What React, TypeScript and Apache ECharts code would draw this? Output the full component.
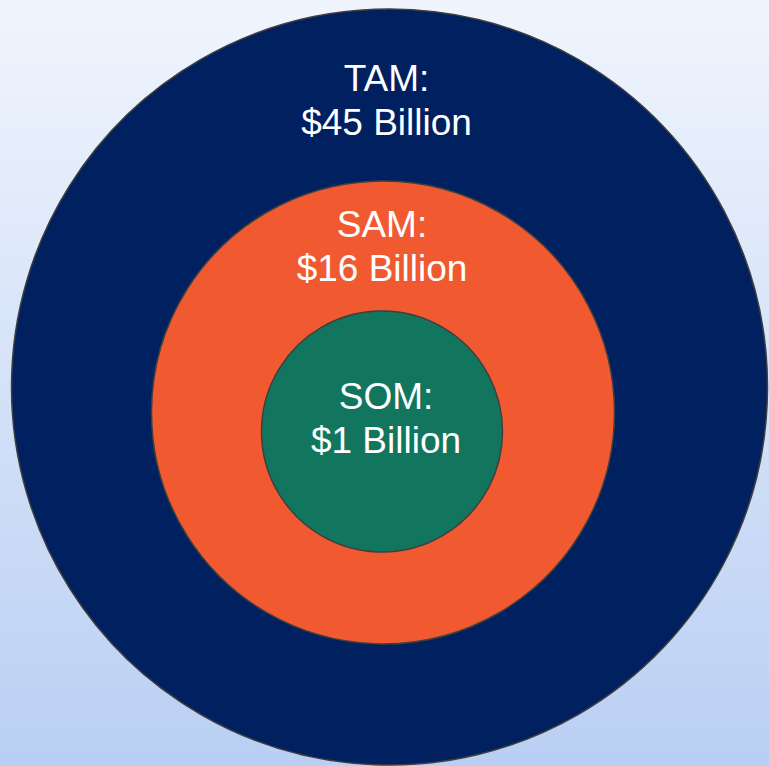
import React, { useEffect, useRef } from "react";
import * as echarts from "echarts";

// Data
const categories = ["TAM", "SAM", "SOM"];
const marketValues = [45, 16, 1]; // $ Billion
const unitLabel = "Billion";

// Layout (pixel space of the 769x766 canvas)
const centersX = [389.5, 383, 382];
const centersY = [387, 412.5, 431.5];
const diameters = [756, 463, 241];
const labelOffsets: [number, number][] = [
  [-3, -287],
  [-1, -166.5],
  [4, -13],
];
const fillColors = ["#00205f", "#f15a31", "#12765f"];

export default function App() {
  const ref = useRef<HTMLDivElement>(null);
  useEffect(() => {
    document.body.style.margin = "0";
    if (!ref.current) return;
    const chart = echarts.init(ref.current, undefined, { renderer: "svg" });
    const data = categories.map((c, i) => ({
      name: c,
      value: [centersX[i], centersY[i], marketValues[i]],
      symbolSize: diameters[i],
      itemStyle: {
        color: fillColors[i],
        borderColor: "#3f3f3f",
        borderWidth: 1.5,
        opacity: 1,
      },
      label: {
        show: true,
        position: "inside",
        offset: labelOffsets[i],
        formatter: `${c}:\n$${marketValues[i]} ${unitLabel}`,
        color: "#ffffff",
        fontSize: 37,
        lineHeight: 44,
        fontFamily: "'Liberation Sans', Arial, sans-serif",
        align: "center",
        verticalAlign: "middle",
      },
    }));
    chart.setOption({
      animation: false,
      backgroundColor: {
        type: "linear",
        x: 0,
        y: 0,
        x2: 0,
        y2: 1,
        colorStops: [
          { offset: 0, color: "#f0f5fd" },
          { offset: 1, color: "#b9cff3" },
        ],
      },
      grid: { left: 0, right: 0, top: 0, bottom: 0 },
      xAxis: { type: "value", min: 0, max: 769, show: false },
      yAxis: { type: "value", min: 0, max: 766, inverse: true, show: false },
      series: [
        {
          type: "scatter",
          symbol: "circle",
          silent: true,
          clip: false,
          emphasis: { disabled: true },
          data,
        },
      ],
    });
    return () => chart.dispose();
  }, []);
  return <div ref={ref} style={{ width: 769, height: 766 }} />;
}
